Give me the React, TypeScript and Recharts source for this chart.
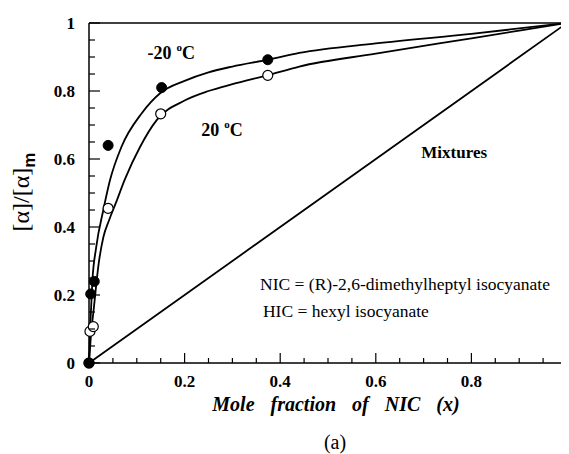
import React from 'react';
import { ComposedChart, Line, Scatter, XAxis, YAxis, ReferenceLine, ReferenceDot } from 'recharts';

// measured points, -20 °C (filled) and 20 °C (open)
const coldPoints = [
  { x: 0, y: 0 }, { x: 0.0035, y: 0.203 }, { x: 0.011, y: 0.24 },
  { x: 0.04, y: 0.64 }, { x: 0.152, y: 0.81 }, { x: 0.374, y: 0.892 },
];
const warmPoints = [
  { x: 0, y: 0 }, { x: 0.002, y: 0.093 }, { x: 0.009, y: 0.107 },
  { x: 0.04, y: 0.455 }, { x: 0.15, y: 0.733 }, { x: 0.374, y: 0.846 },
];

// fitted curves
const coldCurve = [
  { x: 0, y: 0 }, { x: 0.003, y: 0.12 }, { x: 0.007, y: 0.24 }, { x: 0.015, y: 0.34 },
  { x: 0.03, y: 0.45 }, { x: 0.044, y: 0.538 }, { x: 0.068, y: 0.636 }, { x: 0.11, y: 0.734 },
  { x: 0.15, y: 0.795 }, { x: 0.2, y: 0.83 }, { x: 0.25, y: 0.855 }, { x: 0.3, y: 0.872 },
  { x: 0.375, y: 0.892 }, { x: 0.44, y: 0.912 }, { x: 0.6, y: 0.94 }, { x: 0.8, y: 0.968 },
  { x: 1, y: 1 },
];
const warmCurve = [
  { x: 0, y: 0 }, { x: 0.004, y: 0.08 }, { x: 0.01, y: 0.16 }, { x: 0.02, y: 0.29 },
  { x: 0.03, y: 0.37 }, { x: 0.042, y: 0.42 }, { x: 0.056, y: 0.47 }, { x: 0.075, y: 0.54 },
  { x: 0.107, y: 0.636 }, { x: 0.142, y: 0.715 }, { x: 0.2, y: 0.772 }, { x: 0.25, y: 0.8 },
  { x: 0.3, y: 0.82 }, { x: 0.375, y: 0.847 }, { x: 0.44, y: 0.872 }, { x: 0.6, y: 0.91 },
  { x: 0.8, y: 0.955 }, { x: 1, y: 1 },
];
const mixtures = [{ x: 0, y: 0 }, { x: 1, y: 1 }];

const xTicks = [0, 0.05, 0.1, 0.15, 0.2, 0.25, 0.3, 0.35, 0.4, 0.45, 0.5, 0.55, 0.6, 0.65, 0.7, 0.75, 0.8, 0.85, 0.9, 0.95, 1];
const xMajor = [0, 0.2, 0.4, 0.6, 0.8];
const yTicks = [0, 0.05, 0.1, 0.15, 0.2, 0.25, 0.3, 0.35, 0.4, 0.45, 0.5, 0.55, 0.6, 0.65, 0.7, 0.75, 0.8, 0.85, 0.9, 0.95, 1];
const yMajor = [0, 0.2, 0.4, 0.6, 0.8, 1];

const SERIF = '"Liberation Serif", "Times New Roman", serif';

const isMajor = (list: number[], v: number) => list.some((m) => Math.abs(m - v) < 1e-9);
const fmt = (v: number) => (v === 0 ? '0' : v === 1 ? '1' : String(Math.round(v * 10) / 10));

const XTick = (props: any) => {
  const { x, y, payload } = props;
  const v = payload.value;
  const major = isMajor(xMajor, v);
  return (
    <g>
      <line x1={x} x2={x} y1={y} y2={y - (major ? 10 : 5)} stroke="#000" strokeWidth={1.2} />
      {major && (
        <text x={x} y={y + 24} textAnchor="middle" fontFamily={SERIF} fontWeight="bold" fontSize={17} fill="#000">
          {fmt(v)}
        </text>
      )}
    </g>
  );
};

const YTick = (props: any) => {
  const { x, y, payload } = props;
  const v = payload.value;
  const major = isMajor(yMajor, v);
  return (
    <g>
      <line x1={x} x2={x + (major ? 11 : 6)} y1={y} y2={y} stroke="#000" strokeWidth={1.2} />
      {major && (
        <text x={x - 14} y={y + 6} textAnchor="end" fontFamily={SERIF} fontWeight="bold" fontSize={17} fill="#000">
          {fmt(v)}
        </text>
      )}
    </g>
  );
};

const YLabel = (props: any) => {
  const vb = props.viewBox || {};
  const cx = 15;
  const cy = vb.y + vb.height / 2 - 1;
  return (
    <text x={cx} y={cy} transform={`rotate(-90 ${cx} ${cy})`} textAnchor="middle" fontFamily={SERIF} fontSize={24} fill="#000" dominantBaseline="middle">
      [α]/[α]
      <tspan dy={8} fontFamily='"Liberation Sans", Arial, sans-serif' fontWeight="bold" fontSize={17}>m</tspan>
    </text>
  );
};

const XLabel = (props: any) => {
  const vb = props.viewBox || {};
  const cx = vb.x + vb.width / 2 + 8;
  return (
    <g>
      <text x={cx} y={vb.y + 48} textAnchor="middle" fontFamily={SERIF} fontWeight="bold" fontStyle="italic" fontSize={20} wordSpacing={11} fill="#000">
        Mole fraction of NIC (x)
      </text>
      <text x={cx - 1} y={vb.y + 86} textAnchor="middle" fontFamily={SERIF} fontSize={20} fill="#000">
        (a)
      </text>
    </g>
  );
};

const filledDot = (p: any) => <circle cx={p.cx} cy={p.cy} r={5} fill="#000" stroke="#000" />;
const openDot = (p: any) => <circle cx={p.cx} cy={p.cy} r={5} fill="#fff" stroke="#000" strokeWidth={1.2} />;

const tempLabel = (text: string) => (p: any) => (
  <text x={p.cx} y={p.cy + 6} textAnchor="middle" fontFamily={SERIF} fontWeight="bold" fontSize={18} fill="#000">
    {text}
    <tspan fontSize={11} dx={5} dy={-8}>o</tspan>
    <tspan dy={8}>C</tspan>
  </text>
);

const plainLabel = (text: string, anchor: string, bold: boolean, size: number) => (p: any) => (
  <text x={p.cx} y={p.cy + 5} textAnchor={anchor} fontFamily={SERIF} fontWeight={bold ? 'bold' : 'normal'} fontSize={size} fill="#000">
    {text}
  </text>
);

export default function App() {
  return (
    <ComposedChart width={561} height={446} margin={{ top: 15, right: 2, left: 0, bottom: 0 }}>
      <XAxis
        type="number"
        dataKey="x"
        domain={[0, 1]}
        ticks={xTicks}
        interval={0}
        tickSize={0}
        tickMargin={0}
        tickLine={false}
        tick={<XTick />}
        height={91}
        axisLine={{ stroke: '#000', strokeWidth: 1.5 }}
        label={<XLabel />}
      />
      <YAxis
        type="number"
        domain={[0, 1]}
        ticks={yTicks}
        interval={0}
        tickSize={0}
        tickMargin={0}
        tickLine={false}
        tick={<YTick />}
        width={81}
        axisLine={{ stroke: '#000', strokeWidth: 1.5 }}
        label={<YLabel />}
      />
      <ReferenceLine y={1} stroke="#000" strokeWidth={1.5} />
      <Line data={mixtures} dataKey="y" type="linear" stroke="#000" strokeWidth={1.8} dot={false} activeDot={false} isAnimationActive={false} />
      <Line data={coldCurve} dataKey="y" type="monotone" stroke="#000" strokeWidth={1.8} dot={false} activeDot={false} isAnimationActive={false} />
      <Line data={warmCurve} dataKey="y" type="monotone" stroke="#000" strokeWidth={1.8} dot={false} activeDot={false} isAnimationActive={false} />
      <Scatter data={warmPoints} dataKey="y" shape={openDot} isAnimationActive={false} />
      <Scatter data={coldPoints} dataKey="y" shape={filledDot} isAnimationActive={false} />
      <ReferenceDot x={0.172} y={0.912} r={0} shape={tempLabel('-20')} />
      <ReferenceDot x={0.278} y={0.685} r={0} shape={tempLabel('20')} />
      <ReferenceDot x={0.764} y={0.618} r={0} shape={plainLabel('Mixtures', 'middle', true, 17)} />
      <ReferenceDot x={0.358} y={0.229} r={0} shape={plainLabel('NIC = (R)-2,6-dimethylheptyl isocyanate', 'start', false, 17.5)} />
      <ReferenceDot x={0.364} y={0.15} r={0} shape={plainLabel('HIC = hexyl isocyanate', 'start', false, 17.5)} />
    </ComposedChart>
  );
}
